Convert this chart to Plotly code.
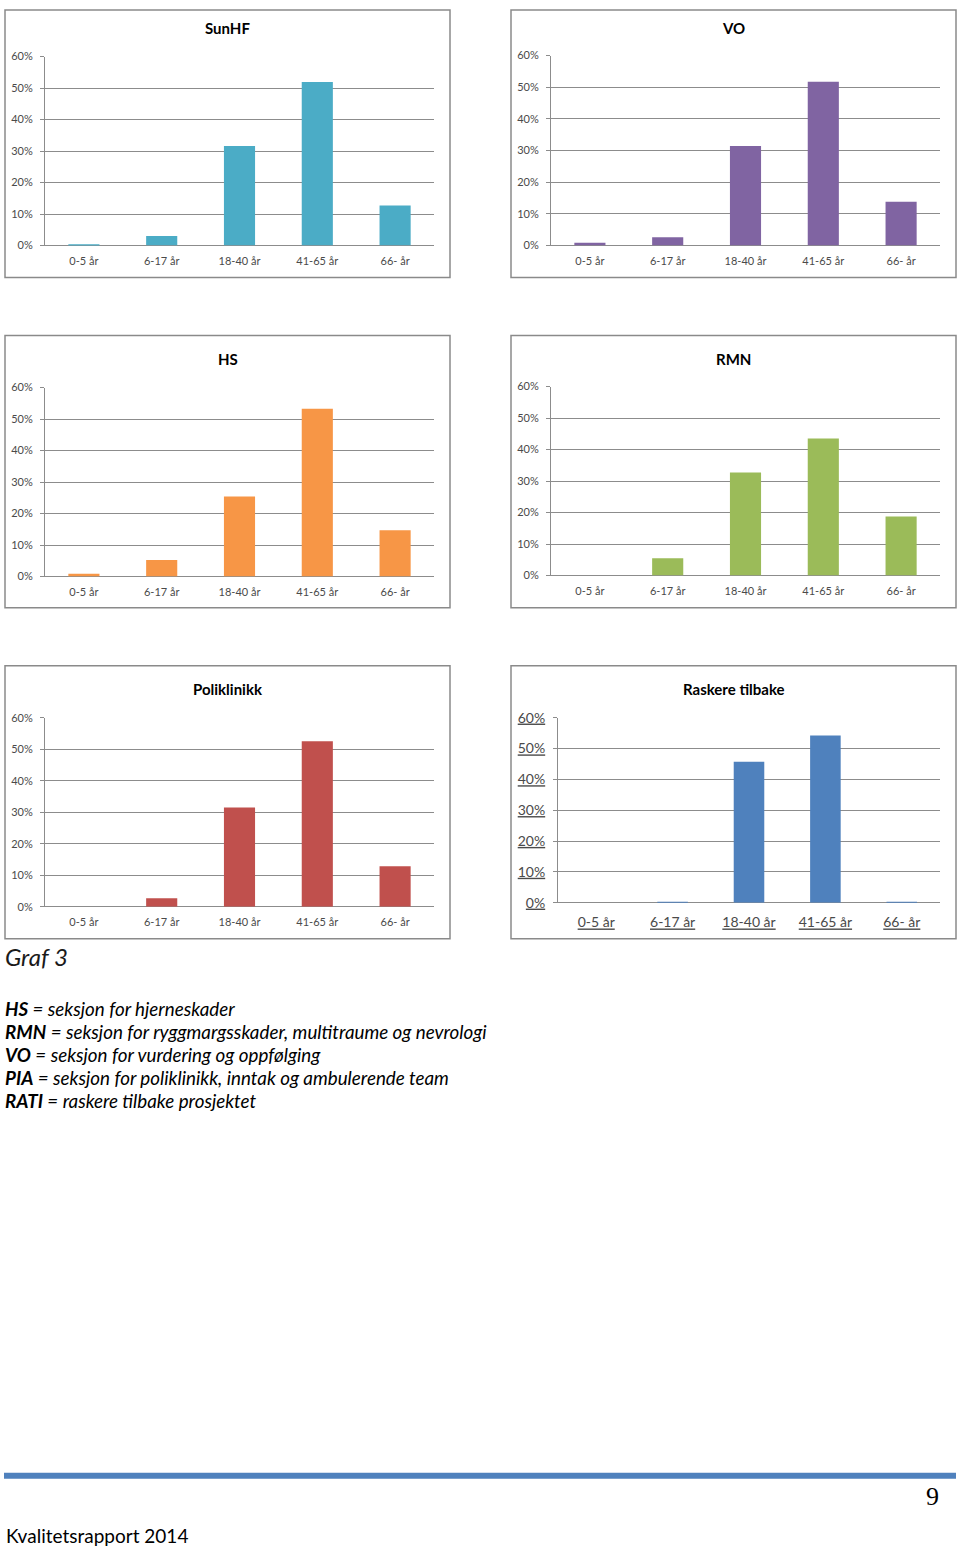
import plotly.graph_objects as go

W, H = 960, 1547

AGE_GROUPS = ["0-5 år", "6-17 år", "18-40 år", "41-65 år", "66- år"]
SUNHF = [0.4, 3.0, 31.6, 51.9, 12.7]
VO = [0.9, 2.6, 31.4, 51.7, 13.8]
HS = [0.9, 5.3, 25.4, 53.3, 14.7]
RMN = [0.0, 5.5, 32.7, 43.5, 18.8]
POLIKLINIKK = [0.0, 2.7, 31.5, 52.5, 12.8]
RASKERE = [0.0, 0.3, 45.7, 54.2, 0.3]
Y_TICKS = [0, 10, 20, 30, 40, 50, 60]

LEGEND_LINES = [
    ("HS", "seksjon for hjerneskader"),
    ("RMN", "seksjon for ryggmargsskader, multitraume og nevrologi"),
    ("VO", "seksjon for vurdering og oppfølging"),
    ("PIA", "seksjon for poliklinikk, inntak og ambulerende team"),
    ("RATI", "raskere tilbake prosjektet"),
]

FONT = "Lato"
GRID = "#8c8c8c"
LABEL = "#4a4a4a"

# the captured page comes out slightly squeezed vertically; undo that
TOP_PAD = 8.5
V_SCALE = 0.9888

# title, values, colour, frame box (px), plot area (px), big labels
PANELS = [
    ("SunHF", SUNHF, "#4BACC6", (5, 4, 450, 277), (45, 56, 434, 245), False),
    ("VO", VO, "#8064A2", (511, 4, 956, 277), (551, 55, 940, 245), False),
    ("HS", HS, "#F79646", (5, 335, 450, 607), (45, 387, 434, 576), False),
    ("RMN", RMN, "#9BBB59", (511, 335, 956, 607), (551, 386, 940, 575), False),
    ("Poliklinikk", POLIKLINIKK, "#C0504D", (5, 665, 450, 938), (45, 717, 434, 906), False),
    ("Raskere tilbake", RASKERE, "#4F81BD", (511, 665, 956, 938), (558, 717, 940, 902), True),
]


def px(x):
    return x / W


def py(y):
    y = max((y - TOP_PAD) / V_SCALE, 1)
    return 1 - y / H


fig = go.Figure()
shapes = []
annotations = []

for i, (title, values, color, box, plot, big) in enumerate(PANELS, start=1):
    suffix = "" if i == 1 else str(i)
    fig.add_trace(
        go.Bar(
            x=AGE_GROUPS,
            y=values,
            marker=dict(color=color, line=dict(width=0)),
            xaxis="x" + suffix,
            yaxis="y" + suffix,
            showlegend=False,
        )
    )
    tick_font = dict(family=FONT, size=14 if big else 11, color=LABEL)
    if big:
        tick_font["lineposition"] = "under"
    fig.layout["xaxis" + suffix] = dict(
        domain=[px(plot[0]), px(plot[2])],
        anchor="y" + suffix,
        showgrid=False,
        showline=False,
        ticks="outside",
        ticklen=7 if big else 5,
        tickcolor="rgba(0,0,0,0)",
        tickfont=tick_font,
        fixedrange=True,
    )
    fig.layout["yaxis" + suffix] = dict(
        domain=[py(plot[3]), py(plot[1])],
        anchor="x" + suffix,
        range=[0, 60],
        tickvals=Y_TICKS,
        ticktext=[f"{v}%" for v in Y_TICKS],
        showgrid=True,
        gridcolor=GRID,
        gridwidth=1,
        zeroline=True,
        zerolinecolor=GRID,
        zerolinewidth=1,
        showline=True,
        linecolor=GRID,
        linewidth=1,
        ticks="outside",
        ticklen=4,
        tickcolor=GRID,
        ticklabelstandoff=5,
        tickfont=tick_font,
        fixedrange=True,
    )
    # chart frame
    shapes.append(
        dict(
            type="rect", xref="paper", yref="paper",
            x0=px(box[0]), x1=px(box[2]), y0=py(box[3]), y1=py(box[1]),
            line=dict(color="#8a8a8a", width=1.5), fillcolor="rgba(0,0,0,0)",
            layer="below",
        )
    )
    annotations.append(
        dict(
            text=f"<b>{title}</b>", xref="paper", yref="paper",
            x=px((box[0] + box[2]) / 2), y=py(box[1] + 23),
            xanchor="center", yanchor="middle", showarrow=False,
            font=dict(family=FONT, size=15, color="#000000"),
        )
    )

annotations.append(
    dict(
        text="Graf 3", xref="paper", yref="paper", x=px(3), y=py(956),
        xanchor="left", yanchor="middle", showarrow=False,
        font=dict(family=FONT, size=24, color="#1a1a1a", style="italic"),
    )
)
for k, (abbr, desc) in enumerate(LEGEND_LINES):
    annotations.append(
        dict(
            text=f"<b>{abbr}</b> = {desc}", xref="paper", yref="paper",
            x=px(3), y=py(1008 + 23 * k),
            xanchor="left", yanchor="middle", showarrow=False,
            font=dict(family=FONT, size=18.8, color="#000000", style="italic"),
        )
    )

shapes.append(
    dict(
        type="rect", xref="paper", yref="paper",
        x0=px(4), x1=px(956), y0=py(1478), y1=py(1472),
        line=dict(width=0), fillcolor="#4F81BD",
    )
)
annotations.append(
    dict(
        text="9", xref="paper", yref="paper", x=px(941), y=py(1496),
        xanchor="right", yanchor="middle", showarrow=False,
        font=dict(family="Liberation Serif", size=26, color="#000000"),
    )
)
annotations.append(
    dict(
        text="Kvalitetsrapport 2014", xref="paper", yref="paper", x=px(4), y=py(1535),
        xanchor="left", yanchor="middle", showarrow=False,
        font=dict(family=FONT, size=19, color="#000000"),
    )
)

fig.update_layout(
    width=W,
    height=H,
    autosize=False,
    margin=dict(l=0, r=0, t=0, b=0, pad=0),
    paper_bgcolor="white",
    plot_bgcolor="white",
    bargap=0.6,
    shapes=shapes,
    annotations=annotations,
    font=dict(family=FONT),
)

fig.write_html(
    "out.html",
    config={"displayModeBar": False},
    post_script="document.body.style.margin='0';",
)
